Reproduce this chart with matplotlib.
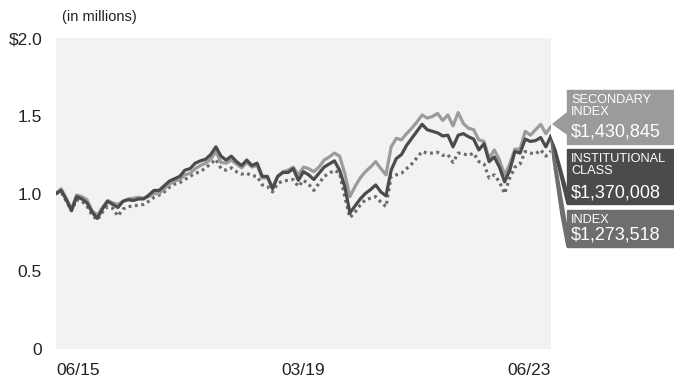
import matplotlib
matplotlib.use("Agg")
import matplotlib.pyplot as plt
from matplotlib import font_manager
from matplotlib.patches import Polygon, Rectangle

# growth of a $1,000,000 investment, monthly values in millions
tick_labels = ["06/15", "03/19", "06/23"]

institutional = [
    1.00, 1.02, 0.96, 0.89, 0.98, 0.965, 0.94, 0.88, 0.84, 0.90,
    0.95, 0.93, 0.91, 0.95, 0.96, 0.955, 0.965, 0.965, 0.99, 1.02,
    1.02, 1.05, 1.08, 1.095, 1.11, 1.15, 1.16, 1.195, 1.21, 1.22,
    1.25, 1.30, 1.24, 1.215, 1.24, 1.205, 1.18, 1.215, 1.18, 1.195,
    1.11, 1.11, 1.03, 1.11, 1.135, 1.135, 1.16, 1.085, 1.14, 1.12,
    1.09, 1.13, 1.17, 1.19, 1.21, 1.15, 1.045, 0.875, 0.92, 0.965,
    1.00, 1.025, 1.055, 1.01, 0.985, 1.15, 1.225, 1.25, 1.31, 1.355,
    1.40, 1.445, 1.41, 1.40, 1.39, 1.37, 1.375, 1.30, 1.375, 1.385,
    1.365, 1.35, 1.28, 1.32, 1.205, 1.235, 1.17, 1.075, 1.15, 1.27,
    1.26, 1.35, 1.335, 1.34, 1.36, 1.30, 1.370008,
]

secondary_index = [
    1.00, 1.03, 0.97, 0.90, 0.99, 0.98, 0.96, 0.89, 0.86, 0.91,
    0.955, 0.94, 0.93, 0.95, 0.965, 0.97, 0.975, 0.97, 0.98, 1.00,
    1.00, 1.03, 1.06, 1.08, 1.09, 1.12, 1.13, 1.16, 1.18, 1.195,
    1.22, 1.27, 1.20, 1.195, 1.215, 1.19, 1.165, 1.20, 1.17, 1.18,
    1.10, 1.10, 1.04, 1.11, 1.14, 1.15, 1.17, 1.12, 1.17, 1.16,
    1.14, 1.17, 1.215, 1.235, 1.26, 1.24, 1.13, 0.98, 1.045, 1.10,
    1.14, 1.17, 1.205, 1.16, 1.12, 1.30, 1.355, 1.345, 1.385, 1.42,
    1.46, 1.505, 1.485, 1.495, 1.515, 1.47, 1.505, 1.435, 1.52, 1.45,
    1.42, 1.41, 1.345, 1.335, 1.225, 1.28, 1.215, 1.12, 1.19, 1.285,
    1.285, 1.40, 1.375, 1.41, 1.445, 1.385, 1.430845,
]

index = [
    1.00, 1.01, 0.95, 0.89, 0.96, 0.95, 0.92, 0.86, 0.83, 0.88,
    0.915, 0.905, 0.855, 0.90, 0.915, 0.92, 0.925, 0.93, 0.95, 0.975,
    0.99, 1.01, 1.04, 1.06, 1.07, 1.09, 1.11, 1.13, 1.14, 1.165,
    1.19, 1.22, 1.16, 1.15, 1.165, 1.14, 1.125, 1.13, 1.115, 1.11,
    1.055, 1.045, 1.01, 1.065, 1.08, 1.085, 1.09, 1.045, 1.085, 1.06,
    1.02, 1.065, 1.11, 1.13, 1.15, 1.13, 0.98, 0.845, 0.88, 0.925,
    0.96, 0.97, 0.98, 0.945, 0.915, 1.11, 1.12, 1.13, 1.16, 1.19,
    1.23, 1.27, 1.26, 1.26, 1.265, 1.245, 1.25, 1.20, 1.26, 1.255,
    1.245, 1.26, 1.205, 1.19, 1.10, 1.12, 1.075, 1.00, 1.10, 1.17,
    1.19, 1.27, 1.26, 1.255, 1.28, 1.24, 1.273518,
]

end_labels = [
    ("SECONDARY\nINDEX", "$1,430,845", "#9b9b9b"),
    ("INSTITUTIONAL\nCLASS", "$1,370,008", "#4b4b4b"),
    ("INDEX", "$1,273,518", "#6e6e6e"),
]


def pick_font(names):
    for name in names:
        try:
            font_manager.findfont(name, fallback_to_default=False)
            return name
        except ValueError:
            continue
    return "DejaVu Sans"


tick_font = pick_font(["Liberation Sans Narrow", "DejaVu Sans Condensed", "Liberation Sans"])
box_font = pick_font(["Liberation Sans", "DejaVu Sans"])

W, H = 674, 382
fig = plt.figure(figsize=(W / 100, H / 100), dpi=100)
ax = fig.add_axes([56 / W, 1 - 349 / H, (551 - 56) / W, (349 - 38) / H])
ax.set_facecolor("#f1f2f4")
for s in ax.spines.values():
    s.set_visible(False)

x = list(range(len(institutional)))
ax.plot(x, index, color="#6b6b6b", lw=2.3, linestyle=(0, (0.9, 1.1)), zorder=2)
ax.plot(x, secondary_index, color="#9b9b9b", lw=2.3, zorder=3)
ax.plot(x, institutional, color="#4b4b4b", lw=2.3, zorder=4)

ax.set_xlim(0, len(x) - 1)
ax.set_ylim(0, 2.0)
ax.set_yticks([0, 0.5, 1.0, 1.5, 2.0])
ax.set_yticklabels(["0", "0.5", "1.0", "1.5", "$2.0"])
ax.set_xticks([0, (len(x) - 1) / 2, len(x) - 1])
ax.set_xticklabels(tick_labels)
ax.tick_params(length=0, labelsize=12.5, colors="#222222", pad=10)
for lab in ax.get_xticklabels() + ax.get_yticklabels():
    lab.set_family(tick_font)
xl = ax.get_xticklabels()
xl[0].set_ha("left")
xl[-1].set_ha("right")

fig.text(62 / W, 1 - 17 / H, "(in millions)", fontsize=10.5, family=tick_font,
         color="#222222", va="center", ha="left")


def fx(px):
    return px / W


def fy(py):
    return 1 - py / H


# end-value boxes on the right
boxes = [(90, 144), (149, 204), (210, 247)]
for (name, value, color), (top, bottom) in zip(end_labels, boxes):
    fig.patches.append(Rectangle((fx(567), fy(bottom)), fx(W - 567), (bottom - top) / H,
                                 transform=fig.transFigure, color=color, zorder=1))
    fig.text(fx(571), fy(top + 4), name, fontsize=9.2, family=box_font, color="white",
             va="top", ha="left", linespacing=1.0)
    fig.text(fx(571), fy(bottom - 3), value, fontsize=13, family=box_font, color="white",
             va="bottom", ha="left")

# pointer and connectors from the line ends to the boxes
fig.patches.append(Polygon([(fx(553), fy(124)), (fx(567), fy(113)), (fx(567), fy(134))],
                           closed=True, transform=fig.transFigure, color="#9b9b9b"))
fig.patches.append(Polygon([(fx(550), fy(135)), (fx(556), fy(150)), (fx(567), fy(190)),
                            (fx(567), fy(204)), (fx(560), fy(175)), (fx(552), fy(145))],
                           closed=True, transform=fig.transFigure, color="#4b4b4b"))
fig.patches.append(Polygon([(fx(551), fy(140)), (fx(558), fy(175)), (fx(567), fy(228)),
                            (fx(567), fy(247)), (fx(561), fy(215)), (fx(553), fy(160))],
                           closed=True, transform=fig.transFigure, color="#6e6e6e"))

fig.savefig("out.png", dpi=100)
